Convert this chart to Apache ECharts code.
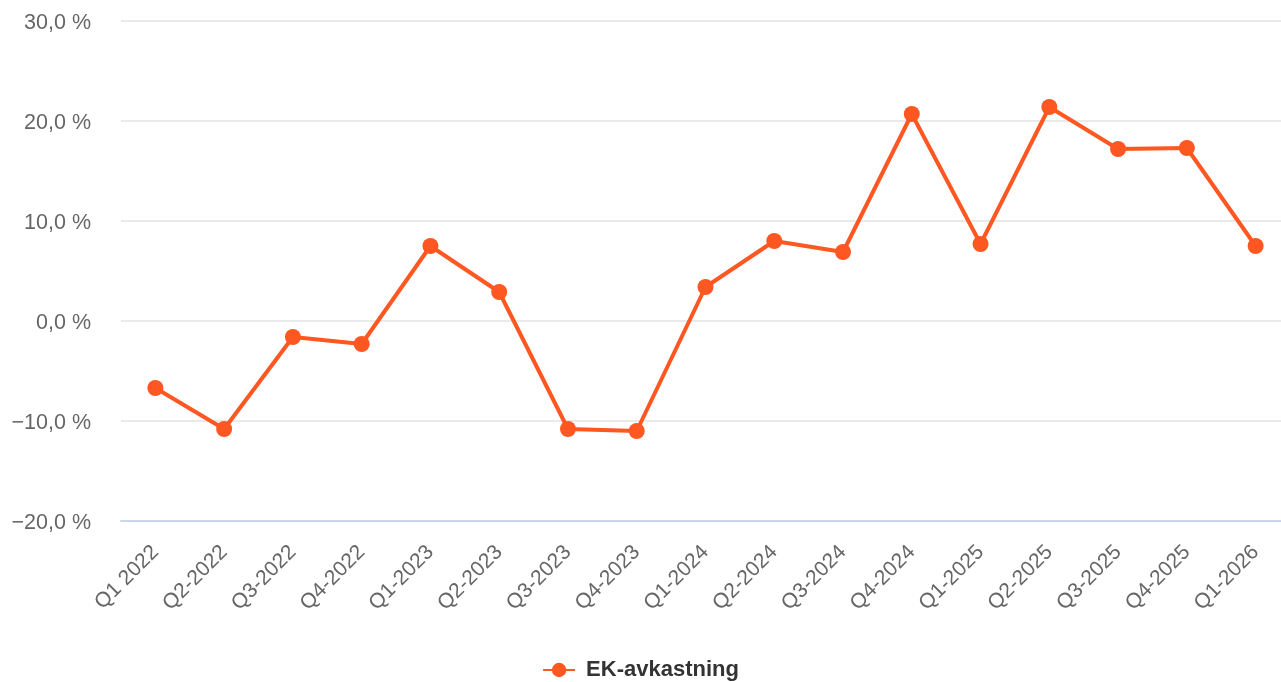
<!DOCTYPE html>
<html>
<head>
<meta charset="utf-8">
<title>EK-avkastning</title>
<script src="https://cdn.jsdelivr.net/npm/echarts@6/dist/echarts.min.js"></script>
<style>
  html, body { margin: 0; padding: 0; background: #fff; }
  #chart { width: 1281px; height: 682px; }
</style>
</head>
<body>
<div id="chart"></div>
<script>
// quarters on the x axis
const quarters = [
  'Q1 2022', 'Q2-2022', 'Q3-2022', 'Q4-2022',
  'Q1-2023', 'Q2-2023', 'Q3-2023', 'Q4-2023',
  'Q1-2024', 'Q2-2024', 'Q3-2024', 'Q4-2024',
  'Q1-2025', 'Q2-2025', 'Q3-2025', 'Q4-2025',
  'Q1-2026'
]

// return on equity, percent
const ekAvkastning = [
  -6.7, -10.8, -1.6, -2.3,
  7.5, 2.9, -10.8, -11.0,
  3.4, 8.0, 6.9, 20.7,
  7.7, 21.4, 17.2, 17.3,
  7.5
]

const seriesName = 'EK-avkastning'
const fontFamily = '"Liberation Sans", Arial, sans-serif'
const orange = '#ff5722'

const chart = echarts.init(document.getElementById('chart'))

// 12,3 -> "12,3 %", negatives use a real minus sign
const fmtPct = (v) => {
  const s = Math.abs(v).toFixed(1).replace('.', ',') + ' %'
  return v < 0 ? '\u2212' + s : s
}

const option = {
  animation: false,
  textStyle: { fontFamily },
  grid: {
    left: 121,
    right: -9,
    top: 21,
    bottom: 161,
    outerBoundsMode: 'none'
  },
  legend: {
    bottom: -4,
    left: 'center',
    data: [seriesName],
    itemWidth: 32,
    itemHeight: 18,
    itemGap: 10,
    textStyle: {
      color: '#333333',
      fontSize: 22,
      fontWeight: 'bold',
      fontFamily,
      padding: [0, 0, 0, 6]
    }
  },
  xAxis: {
    type: 'category',
    data: quarters,
    boundaryGap: true,
    axisLine: { onZero: false, lineStyle: { color: '#ccd6eb', width: 2 } },
    axisTick: { show: false },
    axisLabel: {
      rotate: 45,
      margin: 28,
      color: '#666666',
      fontSize: 21,
      fontFamily,
      interval: 0
    }
  },
  yAxis: {
    type: 'value',
    min: -20,
    max: 30,
    interval: 10,
    axisLine: { show: false },
    axisTick: { show: false },
    axisLabel: {
      margin: 30,
      color: '#666666',
      fontSize: 21.5,
      fontFamily,
      verticalAlign: 'top',
      lineHeight: 5,
      formatter: fmtPct
    },
    splitLine: { lineStyle: { color: '#e3e3e3', width: 1.5 } }
  },
  series: [
    {
      name: seriesName,
      type: 'line',
      data: ekAvkastning,
      symbol: 'circle',
      symbolSize: 16,
      lineStyle: { color: orange, width: 4 },
      itemStyle: { color: orange }
    }
  ]
}

chart.setOption(option)
</script>
</body>
</html>
